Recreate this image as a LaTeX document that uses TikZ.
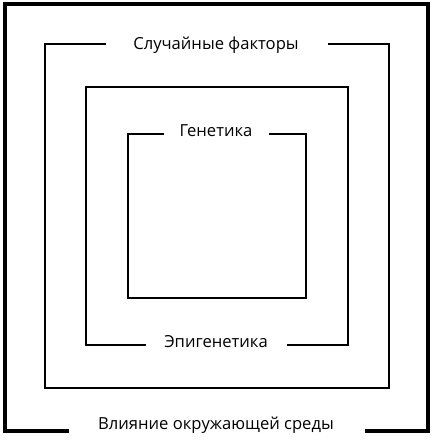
\documentclass[tikz,border=0pt]{standalone}
\usepackage{fontspec}
\setmainfont{Open Sans}
\begin{document}
\begin{tikzpicture}[x=1pt,y=-1pt,
  lbl/.style={font=\fontsize{16.6}{20}\selectfont, inner sep=0pt, anchor=center},
  frame/.style={draw=black, line join=miter, line cap=rect}]
\useasboundingbox (0,0) rectangle (434,441);
% outer frame
\node[lbl] (env) at (216,425) {Влияние окружающей среды};
\draw[frame, line width=3.2] (67,431) -- (5,431) -- (5,4) -- (428,4) -- (428,431) -- (367,431);
% second frame
\node[lbl] (rand) at (216,45) {Случайные факторы};
\draw[frame, line width=2.4] (105,44) -- (45,44) -- (45,388) -- (389,388) -- (389,44) -- (329,44);
% third frame
\node[lbl] (epi) at (216,342) {Эпигенетика};
\draw[frame, line width=2.6] (145,345) -- (86,345) -- (86,87) -- (348,87) -- (348,345) -- (288,345);
% inner frame
\node[lbl] (gen) at (216,131) {Генетика};
\draw[frame, line width=1.8] (163,134) -- (128,134) -- (128,298) -- (306,298) -- (306,134) -- (270,134);
\end{tikzpicture}
\end{document}
